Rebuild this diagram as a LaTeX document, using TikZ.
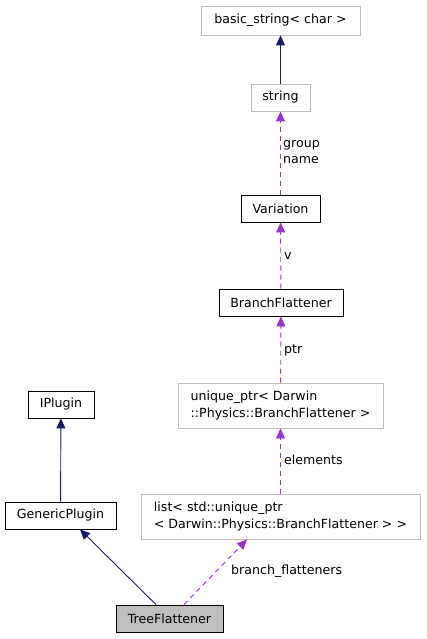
\documentclass[tikz,border=0pt]{standalone}
\usepackage{fontspec}
\setmainfont{DejaVu Sans}
\usepackage{xcolor}
\usetikzlibrary{positioning,calc,arrows.meta}

\definecolor{edgenavy}{HTML}{191970}
\definecolor{edgeorchid}{HTML}{9A32CD}
\definecolor{extgray}{HTML}{BFBFBF}

\begin{document}
\begin{tikzpicture}[
    x=1pt, y=-1pt,
    every node/.style={font=\fontsize{12.6}{16.6}\selectfont, inner sep=0pt},
    cls/.style={draw=black, fill=white, line width=0.9pt, align=left},
    ext/.style={draw=extgray, fill=white, line width=0.9pt, align=left},
    cur/.style={draw=black, fill=extgray, line width=0.9pt},
    inherit/.style={edgenavy, line width=0.9pt, -{Triangle[length=10pt, width=9pt]}},
    usage/.style={edgeorchid, line width=0.9pt, dash pattern=on 5pt off 4pt,
        -{Triangle[length=10pt, width=9pt]}},
    lbl/.style={anchor=west, align=left},
]
\useasboundingbox (0,0) rectangle (427,639);

% =====================================================================
% Member chain: string types down to the branch flatteners list
% =====================================================================
\node[ext, minimum width=159pt, minimum height=29pt] (basicstr) at (280.5,20.5) {basic\_string< char >};
\node[ext, minimum width=59pt, minimum height=27pt] (str) at (280.5,97.5) {string};
\node[cls, minimum width=79pt, minimum height=27pt] (variation) at (280.5,208.5) {Variation};
\node[cls, minimum width=124pt, minimum height=27pt] (branchfl) at (281,302.5) {BranchFlattener};
\node[ext, minimum width=205pt, minimum height=45pt] (uniqueptr) at (280.5,405.5)
    {unique\_ptr< Darwin\\::Physics::BranchFlattener >};
\node[ext, minimum width=279pt, minimum height=45pt] (flist) at (280.5,516.5)
    {list< std::unique\_ptr\\< Darwin::Physics::BranchFlattener > >};

% =====================================================================
% Plugin base classes and the class itself
% =====================================================================
\node[cls, minimum width=66pt, minimum height=27pt] (iplugin) at (61,404.5) {IPlugin};
\node[cls, minimum width=111pt, minimum height=27pt] (generic) at (60.5,515.5) {GenericPlugin};
\node[cur, minimum width=107pt, minimum height=27pt] (treefl) at (169.5,618.5) {TreeFlattener};

% inheritance
\draw[inherit] (str) -- (basicstr);
\draw[inherit] (generic) -- (iplugin);
\draw[inherit] (treefl.north -| 156,0) -- (generic.south -| 80,0);

% usage (member) edges
\draw[usage] (variation) -- (str);
\draw[usage] (branchfl) -- (variation);
\draw[usage] (uniqueptr) -- (branchfl);
\draw[usage] (flist) -- (uniqueptr);
\draw[usage] (treefl.north -| 184,0) -- (flist.south -| 247,0);

% edge labels
\node[lbl] (lgroup) at (283,152) {group\\name};
\node[lbl] (lv) at (284,256) {v};
\node[lbl] (lptr) at (284,350) {ptr};
\node[lbl] (lelem) at (284,460) {elements};
\node[lbl] (lbranch) at (231,571) {branch\_flatteners};

\end{tikzpicture}
\end{document}
